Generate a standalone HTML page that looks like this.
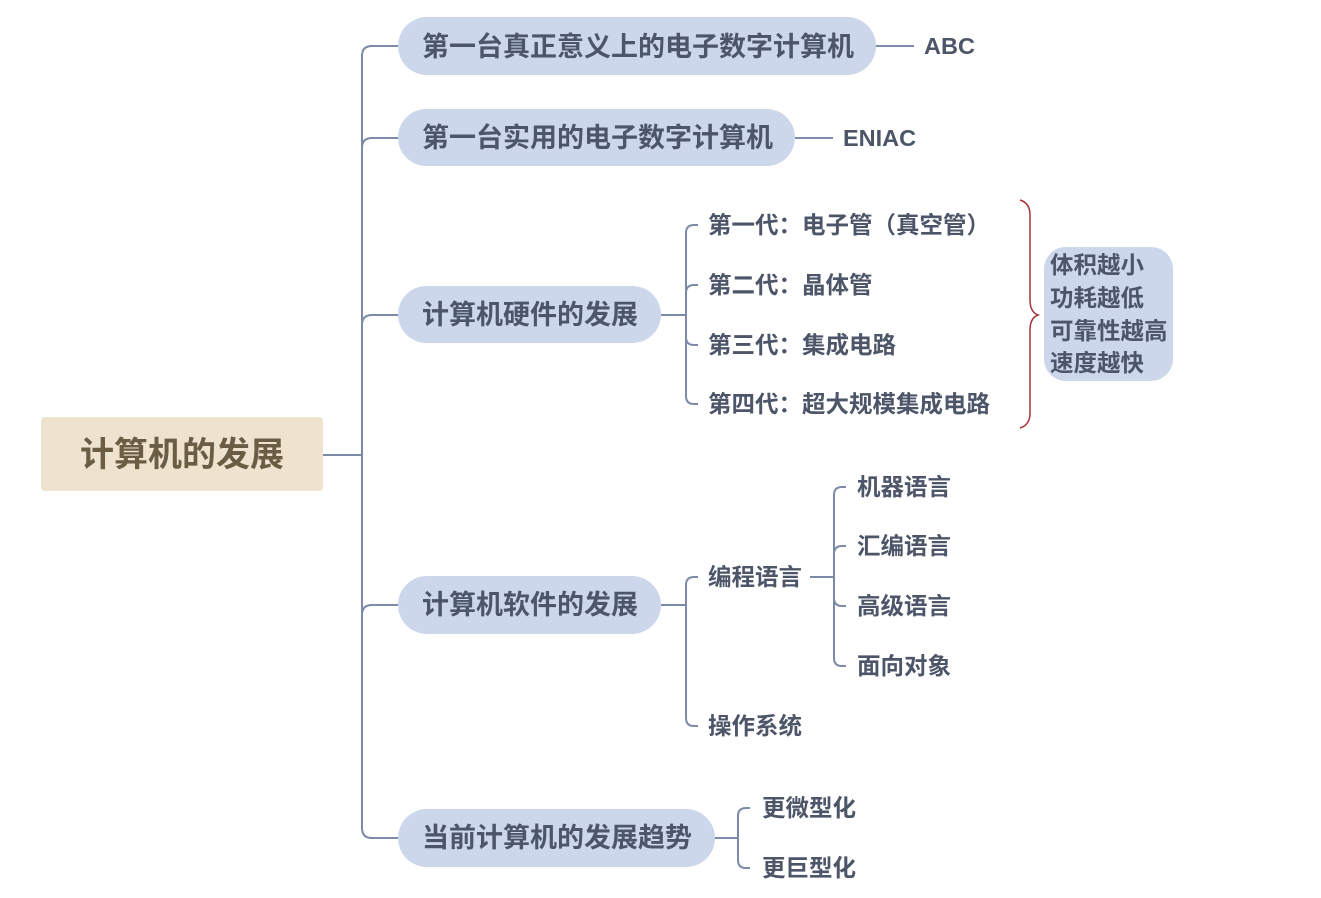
<!DOCTYPE html>
<html><head><meta charset="utf-8"><style>
html,body{margin:0;padding:0;background:#fff;}
svg{display:block;}
text{font-family:"Liberation Sans","Noto Sans CJK SC",sans-serif;font-weight:bold;fill:#4d5669;dominant-baseline:central;}
</style></head><body>
<svg width="1321" height="898" viewBox="0 0 1321 898" xmlns="http://www.w3.org/2000/svg">
<g fill="none" stroke="#7d8aa8" stroke-width="2">
<path d="M323 455 H362"/>
<path d="M398 46 H372 Q362 46 362 56 V828 Q362 838 372 838 H398"/>
<path d="M362 148 Q362 138 372 138 H398"/>
<path d="M362 325 Q362 315 372 315 H398"/>
<path d="M362 615 Q362 605 372 605 H398"/>
<path d="M876 46 H914"/>
<path d="M795 138 H833"/>
<path d="M661 315 H686"/>
<path d="M698 225 H694 Q686 225 686 233 V396 Q686 404 694 404 H698"/>
<path d="M686 293 Q686 285 694 285 H698"/>
<path d="M686 337 Q686 345 694 345 H698"/>
<path d="M661 605 H686"/>
<path d="M698 577 H694 Q686 577 686 585 V718 Q686 726 694 726 H698"/>
<path d="M810 577 H834"/>
<path d="M846 487 H842 Q834 487 834 495 V658 Q834 666 842 666 H846"/>
<path d="M834 554 Q834 546 842 546 H846"/>
<path d="M834 598 Q834 606 842 606 H846"/>
<path d="M715 838 H738"/>
<path d="M750 808 H746 Q738 808 738 816 V860 Q738 868 746 868 H750"/>
</g>
<path d="M1020 200 Q1030 203 1030 215 V300 Q1030 312 1038 315 Q1030 318 1030 330 V413 Q1030 425 1020 428" fill="none" stroke="#a8343c" stroke-width="1.5"/>
<rect x="41" y="417" width="282" height="74" rx="4" fill="#ede3cf"/>
<text x="182" y="455" text-anchor="middle" style="font-size:34px;fill:#6a5d44">计算机的发展</text>
<g fill="#ccd7ec">
<rect x="398" y="17" width="478" height="58" rx="29"/>
<rect x="398" y="109" width="397" height="57" rx="28.5"/>
<rect x="398" y="286" width="263" height="57" rx="28.5"/>
<rect x="398" y="576" width="263" height="58" rx="29"/>
<rect x="398" y="809" width="317" height="58" rx="29"/>
<rect x="1044" y="247" width="129" height="134" rx="22"/>
</g>
<g style="font-size:27px">
<text x="422" y="47">第一台真正意义上的电子数字计算机</text>
<text x="422" y="138">第一台实用的电子数字计算机</text>
<text x="422" y="315">计算机硬件的发展</text>
<text x="422" y="605">计算机软件的发展</text>
<text x="422" y="838">当前计算机的发展趋势</text>
</g>
<g style="font-size:23.5px">
<text x="924" y="46">ABC</text>
<text x="843" y="138">ENIAC</text>
<text x="708" y="225">第一代：电子管（真空管）</text>
<text x="708" y="285">第二代：晶体管</text>
<text x="708" y="345">第三代：集成电路</text>
<text x="708" y="404">第四代：超大规模集成电路</text>
<text x="1050" y="265">体积越小</text>
<text x="1050" y="298">功耗越低</text>
<text x="1050" y="331">可靠性越高</text>
<text x="1050" y="363">速度越快</text>
<text x="708" y="577">编程语言</text>
<text x="708" y="726">操作系统</text>
<text x="857" y="487">机器语言</text>
<text x="857" y="546">汇编语言</text>
<text x="857" y="606">高级语言</text>
<text x="857" y="666">面向对象</text>
<text x="762" y="808">更微型化</text>
<text x="762" y="868">更巨型化</text>
</g>
</svg>
</body></html>
